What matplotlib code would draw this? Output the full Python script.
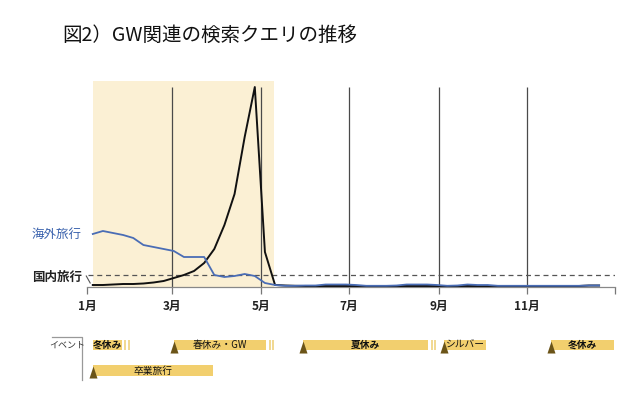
import numpy as np
import matplotlib
matplotlib.use("Agg")
import matplotlib.pyplot as plt

plt.rcParams['font.family'] = ['Noto Sans CJK JP', 'DejaVu Sans']

# weekly search index, day-of-year
days = [4 + 7 * k for k in range(51)]
domestic = [2, 2, 2.5, 3, 3, 3.5, 4.5, 6, 9, 12, 16, 24, 38, 62, 93, 150, 200, 35, 2,
            1.5, 1.2, 1, 1, 1, 1, 1, 1, 1, 1, 1, 1, 1, 1, 1, 1, 1, 1, 1, 1, 1,
            1, 1, 1, 1, 1, 1, 1, 1, 1, 1.5, 1.5]
overseas = [53, 56, 54, 52, 49, 42, 40, 38, 36, 30, 30, 30, 12, 10, 11, 13, 11, 4, 2,
            1.2, 1.2, 1.5, 1.5, 2.5, 2.5, 2.5, 2, 1.2, 1.2, 1.2, 1.5, 2.5, 2.5, 2.5, 2,
            1.2, 1.5, 2.5, 2, 2, 1.2, 1.2, 1.2, 1.2, 1.2, 1.2, 1.2, 1.2, 1.2, 1.5, 1.5]
ref_level = 12
highlight = (4, 129)

month_days = [0, 59, 120, 181, 243, 304]
month_labels = ['1月', '3月', '5月', '7月', '9月', '11月']

event_names = ['冬休み', '春休み・GW', '夏休み', 'シルバー', '冬休み', '卒業旅行']
event_start = [4, 60, 149, 247, 321, 4]
event_end = [24, 124, 236, 276, 364, 87]
event_row = [0, 0, 0, 0, 0, 1]
event_mark = [False, True, True, True, True, True]
event_cont = [True, True, True, False, False, False]
event_bold = [True, False, True, False, True, False]

W, H = 640, 409
fig = plt.figure(figsize=(W / 100, H / 100), dpi=100)

# main chart
ax = fig.add_axes([87 / W, (H - 287) / H, 528 / W, 206 / H])
ax.set_xlim(0, 365)
ax.set_ylim(0, 206)
ax.axvspan(highlight[0], highlight[1], color='#fbf0d4', lw=0, zorder=0)
ax.vlines(month_days[1:], 0, 200, color='#4a4a4a', lw=0.9, zorder=1)
ax.hlines(ref_level, 1, 365, color='#555555', lw=0.9, linestyles=(0, (4, 3)), zorder=1)
ax.plot(days, domestic, color='#111111', lw=1.4, zorder=3)
ax.plot(days, overseas, color='#4a6db5', lw=1.3, zorder=4)

for s in ['top', 'right', 'left']:
    ax.spines[s].set_visible(False)
ax.spines['bottom'].set_color('#888888')
ax.spines['bottom'].set_linewidth(0.9)
ax.set_yticks([])
ax.set_xticks(month_days + [365])
ax.set_xticklabels(month_labels + [''], fontsize=8.5, fontweight='bold', color='#222222')
ax.tick_params(axis='x', length=5, width=0.9, color='#777777', pad=4)

ax.text(-3.5, overseas[0], '海外旅行', ha='right', va='center', fontsize=9,
        color='#3a62ad', clip_on=False)
ax.text(-3.5, 10, '国内旅行', ha='right', va='center', fontsize=9,
        fontweight='bold', color='#222222', clip_on=False)
ax.plot([-0.5, 2.2], [11, 4], color='#555555', lw=0.8, clip_on=False)

fig.text(62 / W, 1 - 35 / H, '図2）GW関連の検索クエリの推移', fontsize=14,
         ha='left', va='center', color='#111111')

# event strip
ax2 = fig.add_axes([87 / W, (H - 382) / H, 528 / W, 47 / H])
ax2.set_xlim(0, 365)
ax2.set_ylim(47, 0)
ax2.axis('off')
row_y = [10, 35.5]
for name, s, e, r, m, c, b in zip(event_names, event_start, event_end, event_row,
                                  event_mark, event_cont, event_bold):
    y = row_y[r]
    ax2.barh(y, e - s, left=s, height=10.5, color='#f2cf6e', lw=0)
    ax2.text((s + e) / 2, y, name, ha='center', va='center', fontsize=7,
             fontweight='bold' if b else 'normal', color='#111111')
    if c:
        ax2.vlines([e + 2.2, e + 4.8], y - 5, y + 5, color='#f0d588', lw=1.3)
    if m:
        ax2.scatter([s], [y + 1.5], marker=[(-1, -1.5), (1, -1.5), (0, 1.5)],
                    s=75, color='#6b5418', lw=0, zorder=5)

ax2.plot([-24, -3.5, -3.5], [2, 2, 45], color='#999999', lw=0.9, clip_on=False)
ax2.text(-13.5, row_y[0], 'イベント', ha='center', va='center', fontsize=6.5,
         color='#333333', clip_on=False)

fig.savefig('out.png', dpi=100)
